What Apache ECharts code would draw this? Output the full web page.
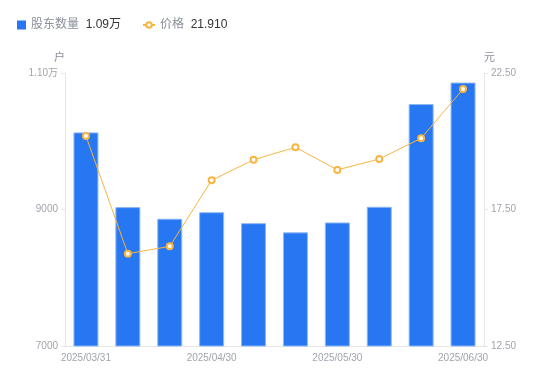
<!DOCTYPE html>
<html><head><meta charset="utf-8">
<script src="https://cdn.jsdelivr.net/npm/echarts@6/dist/echarts.min.js"></script>
<style>html,body{margin:0;padding:0;background:#fff}#c{width:550px;height:381px}</style>
</head><body><div id="c"></div>
<script>
const categories = ['2025/03/31','2025/04/10','2025/04/20','2025/04/30','2025/05/10','2025/05/20','2025/05/30','2025/06/10','2025/06/20','2025/06/30'];
const holders = [10130, 9035, 8865, 8960, 8800, 8665, 8810, 9040, 10545, 10860];
const prices = [20.19, 15.88, 16.15, 18.57, 19.32, 19.78, 18.95, 19.35, 20.11, 21.91];
const leftTicks = [7000, 9000, 11000];
const rightTicks = [12.5, 17.5, 22.5];

const chart = echarts.init(document.getElementById('c'));
const fontFam = '"Liberation Sans", Arial, "Noto Sans CJK SC", sans-serif';
const richText = {a: {color: '#8a8f99', fontSize: 12, fontFamily: fontFam}, b: {color: '#333', fontSize: 12, fontFamily: fontFam}};
chart.setOption({
  animation: false,
  textStyle: {fontFamily: fontFam},
  legend: [{
    left: 12, top: 14, itemWidth: 9, itemHeight: 9, itemGap: 4,
    data: [{name: '股东数量', icon: 'rect', itemStyle: {borderWidth: 0, color: '#2777f2'}}],
    formatter: function (n) {
      return '{a|' + n + '}  {b|' + (holders[holders.length-1]/10000).toFixed(2) + '万}';
    },
    textStyle: {rich: richText}
  }, {
    left: 137, top: 14, itemWidth: 12, itemHeight: 7,
    data: [{name: '价格'}],
    formatter: function (n) {
      return '{a|' + n + '}  {b|' + prices[prices.length-1].toFixed(3) + '}';
    },
    textStyle: {rich: richText}
  }],
  grid: {left: 65, right: 66, top: 73, bottom: 35},
  xAxis: {
    type: 'category', data: categories,
    axisLine: {lineStyle: {color: '#e6e6e6'}},
    axisTick: {show: false},
    axisLabel: {color: '#a0a4ad', fontSize: 10, interval: 2, margin: 7}
  },
  yAxis: [{
    type: 'value', min: leftTicks[0], max: leftTicks[2], interval: 2000,
    name: '户', nameGap: 10, nameTextStyle: {color: '#8a8f99', fontSize: 11, align: 'right'},
    axisLine: {show: true, lineStyle: {color: '#e6e6e6'}},
    axisTick: {show: true, length: 4, lineStyle: {color: '#e6e6e6'}},
    splitLine: {show: false},
    axisLabel: {color: '#a0a4ad', fontSize: 10, margin: 7, formatter: function (v) { return v >= 10000 ? (v/10000).toFixed(2) + '万' : String(v); }}
  }, {
    type: 'value', min: rightTicks[0], max: rightTicks[2], interval: 5,
    name: '元', nameGap: 10, nameTextStyle: {color: '#8a8f99', fontSize: 11, align: 'left'},
    axisLine: {show: true, lineStyle: {color: '#e6e6e6'}},
    axisTick: {show: true, length: 4, lineStyle: {color: '#e6e6e6'}},
    splitLine: {show: false},
    axisLabel: {color: '#a0a4ad', fontSize: 10, margin: 7, formatter: function (v) { return v.toFixed(2); }}
  }],
  series: [{
    name: '股东数量', type: 'bar', data: holders, barWidth: 25, yAxisIndex: 0,
    itemStyle: {color: '#2777f2', borderColor: '#8db8f7', borderWidth: 1}
  }, {
    name: '价格', type: 'line', data: prices, yAxisIndex: 1,
    symbol: 'circle', symbolSize: 6,
    lineStyle: {color: '#f7b541', width: 1},
    itemStyle: {color: '#fff', borderColor: '#f7b541', borderWidth: 2}
  }]
});
</script></body></html>
